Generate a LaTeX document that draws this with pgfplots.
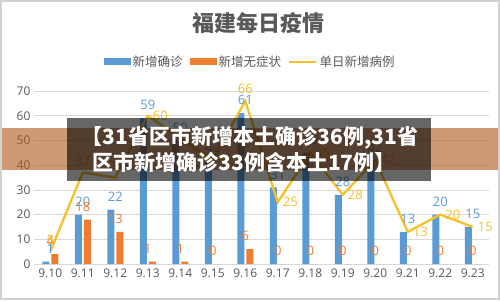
\documentclass[border=0pt]{standalone}
\usepackage{pgfplots}
\pgfplotsset{compat=1.18}
\usepackage{fontspec}
\setmainfont{Open Sans}
\newfontfamily\cjk{Noto Sans CJK SC}
\definecolor{cblue}{HTML}{5B9BD5}
\definecolor{corange}{HTML}{ED7D31}
\definecolor{cyellow}{HTML}{F5C02A}
\definecolor{cgray}{HTML}{595959}
\definecolor{cgrid}{HTML}{D9D9D9}
\pgfkeys{/pgf/number format/assume math mode=true}
\begin{document}
\begin{tikzpicture}[x=1pt,y=1pt]
\path[use as bounding box] (0,0) rectangle (500,300);
\fill[white] (0,0) rectangle (500,300);
\node[font=\cjk\fontsize{22}{23}\selectfont\bfseries, text=cgray] at (258,277) {福建每日疫情};
\begin{axis}[
  at={(34pt,36pt)}, anchor=south west, scale only axis,
  width=455pt, height=173pt,
  xmin=-0.5, xmax=13.5, ymin=0, ymax=70,
  axis x line*=bottom, axis y line*=left,
  x axis line style={cgrid, line width=1pt, -},
  y axis line style={draw=none},
  major tick length=0pt,
  ytick={0,10,...,70},
  ymajorgrids, grid style={cgrid, line width=0.7pt},
  xtick={0,...,13},
  xticklabels={9.10,9.11,9.12,9.13,9.14,9.15,9.16,9.17,9.18,9.19,9.20,9.21,9.22,9.23},
  xticklabel style={font=\fontsize{12}{13}\selectfont, text=cgray, yshift=-1pt},
  yticklabel style={font=\fontsize{12}{13}\selectfont, text=cgray},
  legend style={at={(0.475,1.168)}, anchor=center, draw=none, fill=none,
    legend columns=3, font=\cjk\fontsize{12.5}{13}\selectfont, text=cgray,
    /tikz/every even column/.append style={column sep=5pt}},
  nodes near coords style={font=\fontsize{13}{14}\selectfont},
  clip=false,
]
\addplot[ybar, bar width=7pt, bar shift=-4.5pt, fill=cblue, draw=none,
  nodes near coords, every node near coord/.append style={text=cblue, inner sep=2pt, yshift=6pt},
  legend image code/.code={\fill[cblue] (0pt,-3.5pt) rectangle (27pt,3.5pt);}]
coordinates {(0,1) (1,20) (2,22) (3,59) (4,50) (5,42) (6,61) (7,31) (8,45) (9,28) (10,42) (11,13) (12,20) (13,15)};
\addlegendentry{新增确诊}
\addplot[ybar, bar width=7pt, bar shift=4.5pt, fill=corange, draw=none,
  nodes near coords, every node near coord/.append style={text=corange, inner sep=2pt, yshift=6pt},
  legend image code/.code={\fill[corange] (0pt,-3.5pt) rectangle (27pt,3.5pt);}]
coordinates {(0,4) (1,18) (2,13) (3,1) (4,1) (5,0) (6,6) (7,0) (8,0) (9,0) (10,0) (11,0) (12,0) (13,0)};
\addlegendentry{新增无症状}
\addplot[cyellow, line width=2.3pt, mark=none,
  legend image code/.code={\draw[cyellow, line width=2.3pt] (0pt,0pt) -- (27pt,0pt);}]
coordinates {(0,5) (1,37) (2,35) (3,60) (4,51) (5,42) (6,66) (7,25) (8,45) (9,28) (10,42) (11,13) (12,20) (13,15)};
\addlegendentry{单日新增病例}
% line labels above
\addplot[draw=none, mark=none, forget plot, nodes near coords,
  every node near coord/.append style={text=cyellow, anchor=south, inner sep=2pt, yshift=5pt}]
coordinates {(0,5) (1,37) (2,35) (6,66)};
% line labels right
\addplot[draw=none, mark=none, forget plot, nodes near coords,
  every node near coord/.append style={text=cyellow, anchor=west, inner sep=2pt, xshift=3pt}]
coordinates {(3,60) (4,51) (5,42) (7,25) (8,45) (9,28) (10,42) (11,13) (12,20) (13,15)};
\end{axis}
% overlay banner
\fill[color={rgb,255:red,175;green,85;blue,25}, opacity=0.6] (0,130) rectangle (500,172);
\fill[black, opacity=0.6] (67,119) rectangle (431,182);
\node[font=\cjk\fontsize{21}{24}\selectfont\bfseries, text=white] at (250,162) {【31省区市新增本土确诊36例,31省};
\node[font=\cjk\fontsize{21}{24}\selectfont\bfseries, text=white] at (244,138) {区市新增确诊33例含本土17例】};
\draw[gray!35, line width=1.5pt] (1,1) rectangle (499,299);
\end{tikzpicture}
\end{document}
